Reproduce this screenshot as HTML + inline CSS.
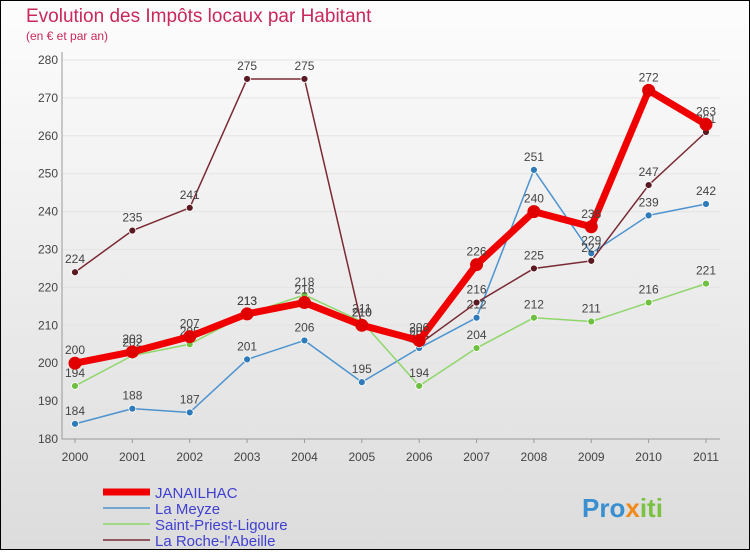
<!DOCTYPE html>
<html><head><meta charset="utf-8"><style>
body{margin:0}
#c{width:750px;height:550px;position:relative;font-family:"Liberation Sans",sans-serif}
</style></head><body>
<div id="c">
<svg id="s" width="750" height="550" xmlns="http://www.w3.org/2000/svg">
<defs><linearGradient id="bg" x1="0" y1="0" x2="0" y2="1"><stop offset="0" stop-color="#fdfdfd"/><stop offset="1" stop-color="#dcdcdc"/></linearGradient></defs>
<rect x="0.5" y="0.5" width="749" height="549" fill="url(#bg)" stroke="#000"/>
<text x="26" y="22" font-size="19" fill="#c8285a">Evolution des Impôts locaux par Habitant</text>
<text x="26" y="40" font-size="12" fill="#c8285a">(en € et par an)</text>
<g id="grid"></g><g id="axes"></g><g id="series"></g><g id="legend"></g>
<text x="582" y="517" font-size="26" font-weight="bold" fill="#3a8fd0">Pro<tspan fill="#f08a1a">x</tspan><tspan fill="#7cc242">iti</tspan></text>
</svg></div>
<script>
const years=[2000,2001,2002,2003,2004,2005,2006,2007,2008,2009,2010,2011];
const yTicks=[180,190,200,210,220,230,240,250,260,270,280];
const seriesNames=["JANAILHAC","La Meyze","Saint-Priest-Ligoure","La Roche-l'Abeille"];
const janailhac=[200,203,207,213,216,210,206,226,240,236,272,263];
const laMeyze=[184,188,187,201,206,195,204,212,251,229,239,242];
const saintPriest=[194,202,205,213,218,211,194,204,212,211,216,221];
const laRoche=[224,235,241,275,275,210,205,216,225,227,247,261];
const NS="http://www.w3.org/2000/svg";
const x0=75,x1=706,y0=439,y1=60;
const xs=i=>x0+(x1-x0)*i/(years.length-1);
const ys=v=>y0-(v-180)/(280-180)*(y0-y1);
function mk(t,a,p){const e=document.createElementNS(NS,t);for(const k in a)e.setAttribute(k,a[k]);p.appendChild(e);return e;}
const G=document.getElementById('grid'),A=document.getElementById('axes'),S=document.getElementById('series'),L=document.getElementById('legend');
yTicks.forEach(v=>{
 const l=mk('line',{x1:62,x2:720,y1:ys(v),y2:ys(v),stroke:'#e4e4e4'},G);
 
 
 const t=mk('text',{x:58,y:ys(v)+4,'font-size':12,'text-anchor':'end',fill:'#444'},A);t.textContent=v;
 
 
});
const ax=mk('path',{d:`M62 ${y1-8} V${y0} H720`,stroke:'#999',fill:'none'},A);


years.forEach((y,i)=>{
 mk('line',{x1:xs(i),x2:xs(i),y1:y0,y2:y0+4,stroke:'#999'},A);
 const t=mk('text',{x:xs(i),y:y0+22,'font-size':12,'text-anchor':'middle',fill:'#444'},A);t.textContent=y;
 
 
});
const defs=[[laMeyze,'#4d93cf','#2f7ab8',1.5,3.5],[saintPriest,'#8fd66a','#6fc040',1.5,3.5],[laRoche,'#7a2a34','#5a1a22',1.5,3.5],[janailhac,'#f00000','#e00000',7,6.5]];
const names=["la-meyze","saint-priest-ligoure","la-roche-l-abeille","janailhac"];
defs.forEach(([d,c,cd,w,r],k)=>{
 const g=mk('g',{},S);
 
 
 const p=mk('polyline',{points:d.map((v,i)=>xs(i)+','+ys(v)).join(' '),fill:'none',stroke:c,'stroke-width':w,'stroke-linejoin':'round'},g);
 
 
 d.forEach((v,i)=>{
  const m=mk('circle',{cx:xs(i),cy:ys(v),r:r,fill:cd,stroke:'#fff','stroke-width':k==3?0:0.8},g);
  
  
  const t=mk('text',{x:xs(i),y:ys(v)-9,'font-size':12,'text-anchor':'middle',fill:'#444'},g);t.textContent=v;
  
  
 });
});
const lc=['#f00000','#4d93cf','#8fd66a','#7a2a34'],lw=[7,1.5,1.5,1.5];
seriesNames.forEach((n,i)=>{
 const y=492+i*16;
 mk('line',{x1:103,x2:150,y1:y,y2:y,stroke:lc[i],'stroke-width':lw[i]},L);
 const t=mk('text',{x:155,y:y+6,'font-size':15,fill:'#4040d0'},L);t.textContent=n;
 
 
});
</script></body></html>
